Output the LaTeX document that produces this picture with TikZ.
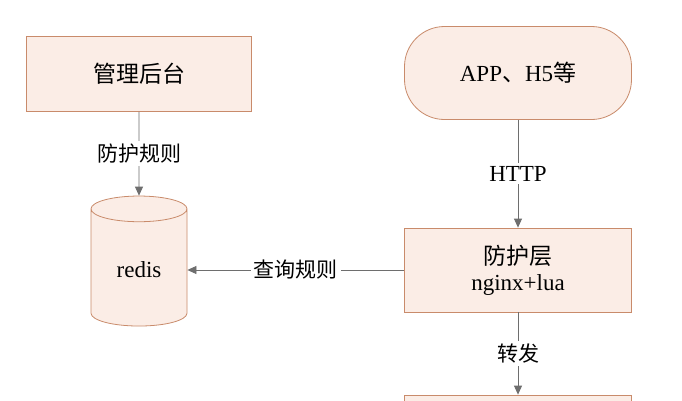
\documentclass[tikz,border=0pt]{standalone}
\usepackage{fontspec}
\setmainfont{Liberation Serif}
\newfontfamily\cjk{Noto Sans CJK SC}
\usetikzlibrary{arrows.meta,positioning,shapes.geometric}
\definecolor{boxfill}{HTML}{FBEDE6}
\definecolor{boxline}{HTML}{C98B6B}
\definecolor{arrowgray}{HTML}{6E6E6E}
\tikzset{
  post/.style={->,>={Triangle[length=9pt,width=8pt]},draw=arrowgray,thick},
  block/.style={draw=boxline,fill=boxfill,thick,minimum width=227pt,minimum height=80pt,
    align=center,font=\fontsize{23}{26}\selectfont},
  label/.style={fill=white,font=\cjk\fontsize{21}{24}\selectfont,inner sep=3pt},
}
\begin{document}
\begin{tikzpicture}[x=1pt,y=-1pt]
  \useasboundingbox[fill=white] (0,0) rectangle (682,400);
  \node[block,minimum width=225pt,minimum height=75pt] (admin) at (139,74) {\cjk 管理后台};
  \node[block,rounded corners=40pt,minimum height=93pt] (app) at (518,73) {APP{\cjk 、}H5{\cjk 等}};
  \node[block,minimum height=84pt] (guard) at (518,270) {{\cjk 防护层}\\nginx+lua};
  \node[block] (backend) at (518,435) {};
  \node[cylinder,shape border rotate=90,draw=boxline,fill=boxfill,thick,aspect=0.5,
    minimum width=96pt,minimum height=130pt,font=\fontsize{23}{26}\selectfont] (redis) at (139,270) {redis};

  \draw[post] (admin) -- (redis) node[midway,label] {防护规则};
  \draw[post] (app) -- (guard) node[midway,label,font=\fontsize{23}{26}\selectfont] {HTTP};
  \draw[post] (guard) -- (redis) node[midway,label] {查询规则};
  \draw[post] (guard) -- (backend) node[midway,label] {转发};
\end{tikzpicture}
\end{document}
